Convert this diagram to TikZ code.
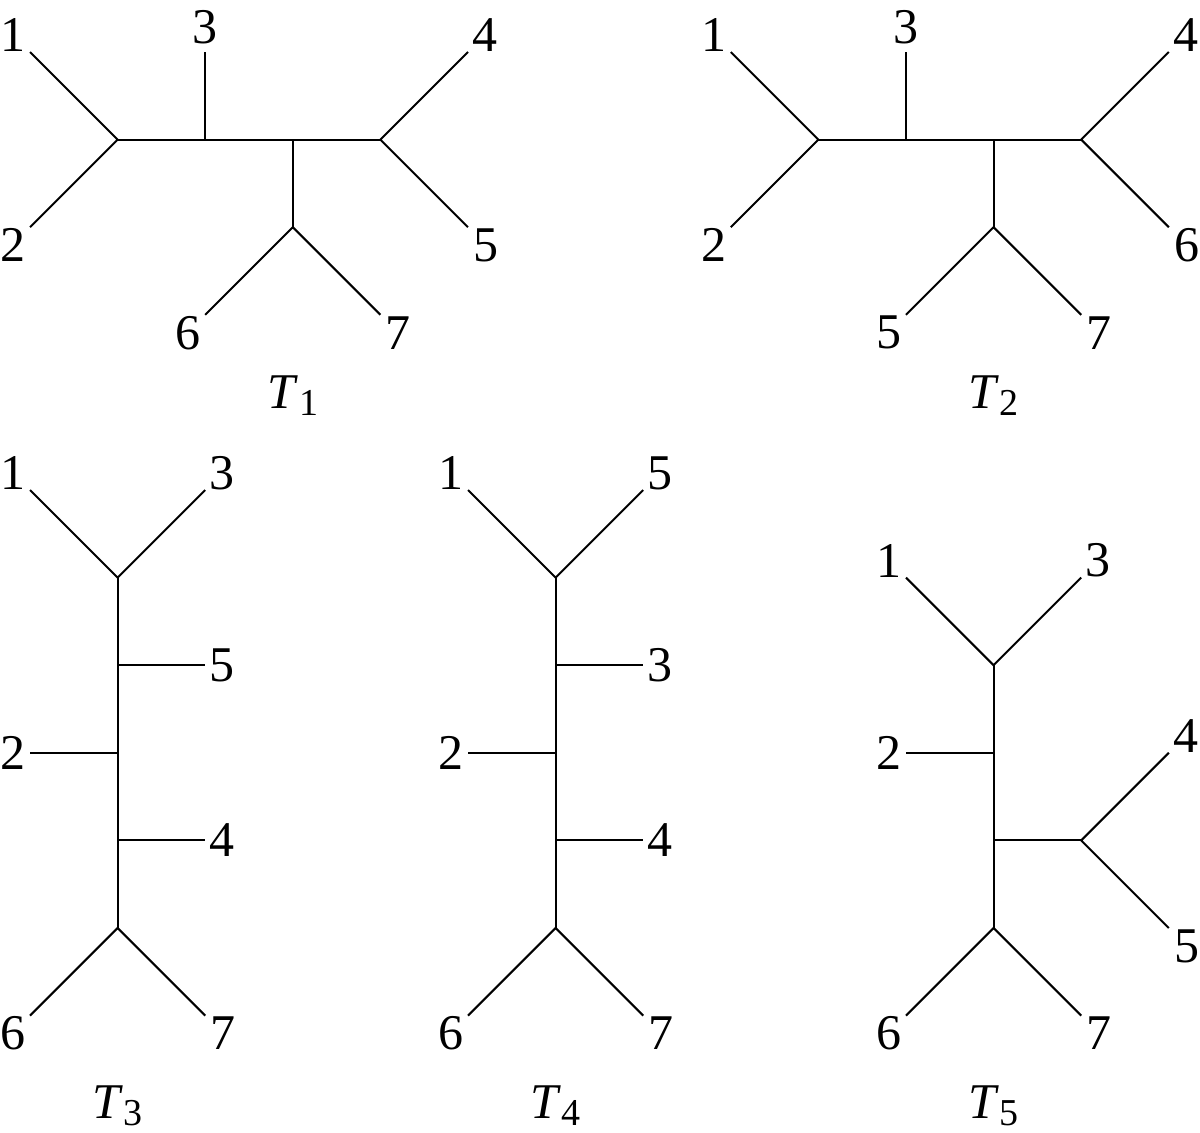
\documentclass[tikz,border=0pt]{standalone}
\usepackage{fontspec}
\setmainfont{Liberation Serif}
\newcommand\trsub[1]{\kern1pt\raisebox{-7pt}{\fontsize{38}{38}\selectfont #1}}
\begin{document}
\begin{tikzpicture}[x=87.6pt,y=-87.6pt,line width=2pt,line join=miter,
  lab/.style={inner sep=0pt,font=\fontsize{50}{60}\selectfont},
  ttl/.style={inner sep=0pt,anchor=base,font=\fontsize{50}{60}\selectfont},
  labUL/.style={xshift=-17pt,yshift=17pt},
  labUR/.style={xshift=17pt,yshift=17pt},
  labLL/.style={xshift=-17pt,yshift=-18pt},
  labLR/.style={xshift=18pt,yshift=-18pt},
  labUp/.style={yshift=25pt},
  labR/.style={xshift=17pt},
  labL/.style={xshift=-17pt}]
\useasboundingbox (-30pt,52pt) rectangle (1170pt,-1081pt);

% ---------- T1 ----------
\coordinate (t1a) at (1,1); \coordinate (t1b) at (2,1);
\coordinate (t1c) at (3,1); \coordinate (t1d) at (3,2);
\coordinate (t1e) at (4,1);
\coordinate (t1n1) at (0,0); \coordinate (t1n2) at (0,2);
\coordinate (t1n3) at (2,0); \coordinate (t1n4) at (5,0);
\coordinate (t1n5) at (5,2); \coordinate (t1n6) at (2,3);
\coordinate (t1n7) at (4,3);
\draw (t1n1) -- (t1a) -- (t1n2);
\draw (t1a) -- (t1e);
\draw (t1n3) -- (t1b);
\draw (t1c) -- (t1d);
\draw (t1n6) -- (t1d) -- (t1n7);
\draw (t1n4) -- (t1e) -- (t1n5);
\node[lab,labUL] (t1L1) at (t1n1) {1};
\node[lab,labLL] (t1L2) at (t1n2) {2};
\node[lab,labUp] (t1L3) at (t1n3) {3};
\node[lab,labUR] (t1L4) at (t1n4) {4};
\node[lab,labLR] (t1L5) at (t1n5) {5};
\node[lab,labLL] (t1L6) at (t1n6) {6};
\node[lab,labLR] (t1L7) at (t1n7) {7};
\node[ttl] (t1T) at (3,4.064) {\textit{T}\trsub{1}};

% ---------- T2 ----------
\coordinate (t2a) at (9,1); \coordinate (t2b) at (10,1);
\coordinate (t2c) at (11,1); \coordinate (t2d) at (11,2);
\coordinate (t2e) at (12,1);
\coordinate (t2n1) at (8,0); \coordinate (t2n2) at (8,2);
\coordinate (t2n3) at (10,0); \coordinate (t2n4) at (13,0);
\coordinate (t2n6) at (13,2); \coordinate (t2n5) at (10,3);
\coordinate (t2n7) at (12,3);
\draw (t2n1) -- (t2a) -- (t2n2);
\draw (t2a) -- (t2e);
\draw (t2n3) -- (t2b);
\draw (t2c) -- (t2d);
\draw (t2n5) -- (t2d) -- (t2n7);
\draw (t2n4) -- (t2e) -- (t2n6);
\node[lab,labUL] (t2L1) at (t2n1) {1};
\node[lab,labLL] (t2L2) at (t2n2) {2};
\node[lab,labUp] (t2L3) at (t2n3) {3};
\node[lab,labUR] (t2L4) at (t2n4) {4};
\node[lab,labLR] (t2L6) at (t2n6) {6};
\node[lab,labLL] (t2L5) at (t2n5) {5};
\node[lab,labLR] (t2L7) at (t2n7) {7};
\node[ttl] (t2T) at (11,4.064) {\textit{T}\trsub{2}};

% ---------- T3 ----------
\coordinate (t3top) at (1,6); \coordinate (t3bot) at (1,10);
\coordinate (t3b5) at (1,7); \coordinate (t3b2) at (1,8);
\coordinate (t3b4) at (1,9);
\coordinate (t3n1) at (0,5); \coordinate (t3n3) at (2,5);
\coordinate (t3n5) at (2,7); \coordinate (t3n2) at (0,8);
\coordinate (t3n4) at (2,9);
\coordinate (t3n6) at (0,11); \coordinate (t3n7) at (2,11);
\draw (t3n1) -- (t3top) -- (t3n3);
\draw (t3top) -- (t3bot);
\draw (t3b5) -- (t3n5);
\draw (t3n2) -- (t3b2);
\draw (t3b4) -- (t3n4);
\draw (t3n6) -- (t3bot) -- (t3n7);
\node[lab,labUL] (t3L1) at (t3n1) {1};
\node[lab,labUR] (t3L3) at (t3n3) {3};
\node[lab,labR] (t3L5) at (t3n5) {5};
\node[lab,labL] (t3L2) at (t3n2) {2};
\node[lab,labR] (t3L4) at (t3n4) {4};
\node[lab,labLL] (t3L6) at (t3n6) {6};
\node[lab,labLR] (t3L7) at (t3n7) {7};
\node[ttl] (t3T) at (1,12.17) {\textit{T}\trsub{3}};

% ---------- T4 ----------
\coordinate (t4top) at (6,6); \coordinate (t4bot) at (6,10);
\coordinate (t4b3) at (6,7); \coordinate (t4b2) at (6,8);
\coordinate (t4b4) at (6,9);
\coordinate (t4n1) at (5,5); \coordinate (t4n5) at (7,5);
\coordinate (t4n3) at (7,7); \coordinate (t4n2) at (5,8);
\coordinate (t4n4) at (7,9);
\coordinate (t4n6) at (5,11); \coordinate (t4n7) at (7,11);
\draw (t4n1) -- (t4top) -- (t4n5);
\draw (t4top) -- (t4bot);
\draw (t4b3) -- (t4n3);
\draw (t4n2) -- (t4b2);
\draw (t4b4) -- (t4n4);
\draw (t4n6) -- (t4bot) -- (t4n7);
\node[lab,labUL] (t4L1) at (t4n1) {1};
\node[lab,labUR] (t4L5) at (t4n5) {5};
\node[lab,labR] (t4L3) at (t4n3) {3};
\node[lab,labL] (t4L2) at (t4n2) {2};
\node[lab,labR] (t4L4) at (t4n4) {4};
\node[lab,labLL] (t4L6) at (t4n6) {6};
\node[lab,labLR] (t4L7) at (t4n7) {7};
\node[ttl] (t4T) at (6,12.17) {\textit{T}\trsub{4}};

% ---------- T5 ----------
\coordinate (t5top) at (11,7); \coordinate (t5bot) at (11,10);
\coordinate (t5b2) at (11,8); \coordinate (t5b45) at (11,9);
\coordinate (t5r) at (12,9);
\coordinate (t5n1) at (10,6); \coordinate (t5n3) at (12,6);
\coordinate (t5n2) at (10,8);
\coordinate (t5n4) at (13,8); \coordinate (t5n5) at (13,10);
\coordinate (t5n6) at (10,11); \coordinate (t5n7) at (12,11);
\draw (t5n1) -- (t5top) -- (t5n3);
\draw (t5top) -- (t5bot);
\draw (t5n2) -- (t5b2);
\draw (t5b45) -- (t5r);
\draw (t5n4) -- (t5r) -- (t5n5);
\draw (t5n6) -- (t5bot) -- (t5n7);
\node[lab,labUL] (t5L1) at (t5n1) {1};
\node[lab,labUR] (t5L3) at (t5n3) {3};
\node[lab,labL] (t5L2) at (t5n2) {2};
\node[lab,labUR] (t5L4) at (t5n4) {4};
\node[lab,labLR] (t5L5) at (t5n5) {5};
\node[lab,labLL] (t5L6) at (t5n6) {6};
\node[lab,labLR] (t5L7) at (t5n7) {7};
\node[ttl] (t5T) at (11,12.17) {\textit{T}\trsub{5}};
\end{tikzpicture}
\end{document}
